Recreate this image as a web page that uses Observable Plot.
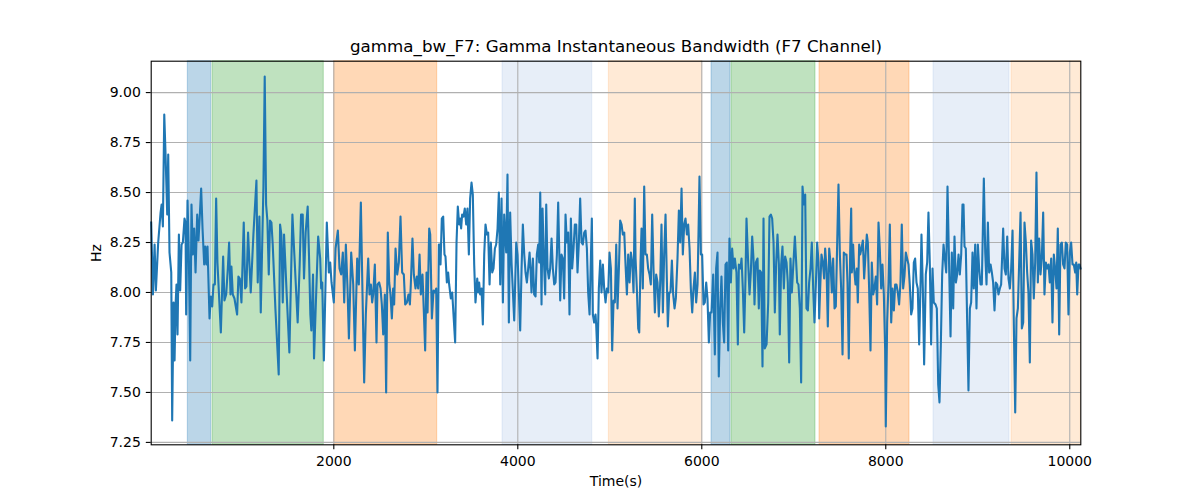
<!DOCTYPE html>
<html>
<head>
<meta charset="utf-8">
<script src="https://cdn.jsdelivr.net/npm/d3@7"></script>
<script src="https://cdn.jsdelivr.net/npm/@observablehq/plot@0.6"></script>
<style>
  html, body { margin: 0; padding: 0; background: #fff; }
  #chart svg { display: block; }
</style>
</head>
<body>
<div id="chart"></div>
<script>
const title = "gamma_bw_F7: Gamma Instantaneous Bandwidth (F7 Channel)";
const xLabel = "Time(s)";
const yLabel = "Hz";
const xTicks = [2000, 4000, 6000, 8000, 10000];
const yTicks = [7.25, 7.5, 7.75, 8.0, 8.25, 8.5, 8.75, 9.0];
const xDomain = [15, 10120];
const yDomain = [7.238, 9.157];

// shaded periods
const spanStart = [413, 682, 2004, 3834, 4990, 6106, 6323, 7280, 8519, 9367];
const spanEnd   = [667, 1891, 3124, 4809, 6004, 6312, 7236, 8258, 9345, 10120];
const spanColor = ["#1f77b4", "#2ca02c", "#ff7f0e", "#aec7e8", "#ffbb78",
                   "#1f77b4", "#2ca02c", "#ff7f0e", "#aec7e8", "#ffbb78"];

// series
const times = [
15,34,52,66,91,117,128,142,157,171,189,200,214,233,243,258,269,280,290,301,316,330,345,359,377,388,395,410,424,439,453,468,482,497,515,529,544,558,573,591,602,616,627,649,663,678,692,707,721,735,772,797,811,830,848,862,877,887,902,920,949,963,978,996,1021,1036,1050,1068,1097,1126,1159,1173,1191,1206,1235,1249,1264,1278,1293,1307,1322,1336,1365,1401,1416,1430,1445,1459,1488,1517,1550,1571,1607,1629,1644,1662,1676,1694,1716,1730,1745,1756,1774,1785,
1808,1830,1852,1863,1874,1892,1924,1946,1961,1975,2000,2019,2044,2062,2080,2098,2113,2131,2149,2164,2189,2211,2229,2254,2272,2294,2312,2330,2348,2374,2388,2403,2417,2428,2446,2464,2475,2493,2508,2522,2537,2555,2569,2587,2602,2616,2631,2645,2656,2671,2689,2707,2725,2743,2761,2776,2794,2812,2827,2837,2855,2870,2888,2903,2917,2932,2946,2964,2979,2993,3008,3019,3037,3048,3066,3084,3098,3113,3127,3142,3153,3160,3174,3189,3203,3214,3229,3243,3254,3272,3287,3319,3334,3348,3363,3374,3384,3395,3410,3424,3439,3453,3468,3482,3497,3511,3526,3540,
3559,3570,3580,3591,3606,3620,3635,3649,3664,3678,3693,3707,3722,3736,3751,3765,3780,3794,3809,3823,3838,3852,3874,3888,3903,3917,3932,3961,3983,3997,4026,4041,4055,4070,4084,4099,4113,4128,4139,4149,4164,4178,4193,4207,4222,4233,4244,4258,4269,4283,4298,4309,4323,4338,4352,4367,4381,4396,4410,4425,4439,4450,4461,4475,4490,4504,4519,4533,4548,4562,4577,4591,4606,4620,4635,4649,4664,4678,4693,4707,4722,4736,4751,4765,4780,4805,4816,4830,4845,4852,4867,4881,4896,4910,4925,4939,4954,4968,4983,4997,5012,5026,5041,5055,5070,5084,5099,5113,5128,5142,5157,5171,5186,5200,5215,5229,5244,5258,5272,
5280,5294,5309,5320,5334,5345,5359,5374,5388,5403,5417,5432,5446,5461,5475,5490,5504,5519,5533,5548,5562,5577,5591,5606,5620,5631,5646,5660,5675,5689,5704,5718,5736,5751,5765,5780,5794,5809,5823,5838,5852,5867,5881,5896,5910,5925,5939,5954,5968,5975,5990,6004,6019,6033,6048,6062,6077,6091,6106,6124,6142,6156,6171,6185,6200,6214,6229,6243,6258,6272,6287,6301,6316,6330,6345,6359,6377,6392,6403,6421,6432,6446,6461,6475,6486,6504,6519,6533,6548,6562,6573,6588,6606,6620,6631,6646,6660,6671,6685,6704,6722,6736,6751,6765,6780,6794,6809,6823,6838,6848,6863,6877,6892,6906,6921,6935,6950,6964,6979,6993,7012,
7037,7051,7066,7080,7095,7109,7124,7138,7153,7167,7182,7196,7211,7225,7240,7254,7269,7276,7287,7301,7316,7330,7341,7356,7370,7385,7399,7414,7428,7443,7457,7472,7486,7501,7515,7530,7544,7559,7573,7584,7598,7613,7624,7631,7645,7656,7671,7685,7696,7711,7722,7736,7751,7765,7780,7794,7805,7819,7834,7848,7863,7877,7892,7906,7921,7935,7950,7964,7979,7993,8000,8015,8030,8044,8059,8073,8088,8102,8116,8131,8145,8160,8174,8189,8203,8218,8232,8247,8261,8276,8290,8305,8319,8334,8348,8363,8377,8388,8403,8417,8435,8450,8464,8479,8493,8508,8522,
8541,8555,8570,8584,8599,8613,8628,8642,8657,8671,8686,8704,8718,8733,8747,8762,8776,8791,8805,8820,8834,8845,8856,8870,8885,8899,8914,8928,8943,8957,8972,8986,9001,9015,9030,9044,9066,9081,9095,9110,9124,9139,9153,9167,9182,9196,9211,9225,9240,9254,9276,9291,9305,9320,9334,9349,9363,9378,9392,9407,9421,9436,9450,9465,9479,9494,9508,9523,9537,9551,9566,9580,9595,9609,9624,9638,9653,9667,9682,9696,9711,9725,9740,9754,9769,9783,9798,9812,9827,9841,9856,9870,9885,9899,9914,9928,9943,9957,9972,9986,10001,10015,10030,10044,10059,10070,10081,10095,10106,10117
];
const hz = [
8.35,7.99,8.24,8.01,8.25,8.40,8.44,8.33,8.89,8.69,8.39,8.69,8.20,8.10,7.36,7.95,7.66,7.94,8.04,7.79,8.29,8.01,8.24,8.25,8.37,8.35,7.89,8.46,8.19,7.66,8.44,8.19,8.32,8.10,8.39,8.26,8.39,8.52,8.32,8.14,8.23,8.14,8.23,7.87,7.98,7.93,8.04,8.04,8.47,8.15,7.80,8.18,7.96,7.99,8.12,8.25,7.99,8.13,7.99,7.97,7.89,8.08,8.07,7.95,8.35,8.02,8.03,8.30,8.00,8.29,8.56,8.05,8.38,7.90,8.53,9.08,8.44,8.36,8.09,8.36,8.35,8.24,7.92,7.59,8.34,8.29,7.95,8.29,7.99,7.70,8.39,8.19,7.85,8.14,8.39,8.39,8.07,8.30,8.43,8.19,7.89,7.81,8.09,7.67,
7.99,8.28,8.17,8.02,8.05,7.66,8.35,8.10,8.15,8.05,7.95,8.22,8.31,8.12,8.09,8.20,7.95,8.24,8.02,7.77,8.20,8.04,7.71,8.17,8.04,8.45,7.99,7.55,7.89,8.17,7.99,8.04,7.95,7.99,8.14,7.75,8.04,8.05,8.02,7.94,7.79,7.99,7.50,8.30,8.05,7.99,7.87,8.02,7.94,8.22,8.09,8.15,8.38,8.10,8.09,7.94,7.95,7.99,7.94,8.04,8.27,8.09,8.02,8.08,8.02,8.19,7.99,8.09,7.90,7.71,8.10,7.90,8.32,8.29,7.87,8.01,8.00,8.02,7.50,8.24,8.24,8.14,8.37,8.38,8.19,8.18,8.05,8.10,8.04,7.97,8.00,7.75,8.25,8.43,8.34,8.37,8.32,8.39,8.38,8.42,8.34,8.42,8.19,8.47,8.55,8.49,8.14,7.95,
8.07,8.00,8.05,7.99,8.02,7.84,8.19,8.34,8.29,8.30,8.04,8.25,8.10,8.12,8.22,8.24,8.32,8.50,8.04,8.47,7.95,8.39,8.20,8.59,7.85,8.40,8.15,7.86,8.25,8.19,7.81,8.12,8.34,8.19,8.10,8.05,8.12,8.20,8.11,8.00,8.17,7.99,7.98,8.19,8.24,8.15,8.50,7.94,8.42,8.17,7.99,8.44,8.12,8.07,8.12,8.27,8.12,8.04,8.05,8.19,8.45,8.22,7.96,8.19,8.17,7.97,8.39,8.25,8.30,7.89,8.37,8.12,8.22,8.34,8.34,8.10,8.25,8.47,8.25,8.24,8.30,8.31,8.22,8.00,7.89,8.37,7.89,7.85,7.89,7.84,7.67,8.02,8.16,8.00,8.14,8.02,7.95,8.02,8.00,8.20,8.12,7.71,7.96,7.95,8.24,7.92,8.12,8.36,8.34,8.29,8.30,8.14,7.99,8.19,8.05,8.20,8.15,8.00,8.47,
8.17,8.02,7.82,7.80,8.15,8.32,8.02,8.53,8.19,8.19,8.12,8.09,8.04,8.39,8.12,7.90,8.09,8.05,7.88,8.05,8.34,7.90,8.19,8.39,8.07,7.83,8.00,8.00,8.16,7.99,7.92,7.97,8.17,8.41,8.25,8.52,8.19,8.34,8.37,8.29,8.34,8.22,8.02,7.90,8.02,8.10,7.95,8.04,8.39,8.58,8.19,8.19,7.94,7.95,8.05,7.97,7.75,7.90,7.90,8.09,7.69,8.12,8.20,7.58,7.92,8.08,7.85,7.75,8.14,8.15,7.71,8.27,8.05,8.22,8.12,8.17,8.10,7.74,8.14,8.12,8.17,8.02,7.80,8.07,8.37,8.15,7.99,8.10,8.28,8.17,7.94,8.15,8.17,7.92,8.11,8.10,7.63,8.37,7.72,7.74,7.95,8.38,8.39,8.37,8.25,7.90,8.15,8.29,8.14,7.79,8.14,8.23,8.02,8.18,8.15,8.05,7.65,8.17,8.00,8.12,8.28,
8.05,8.04,7.92,7.55,8.53,8.44,8.49,7.92,7.91,8.05,8.12,8.25,8.02,7.85,8.04,8.25,8.15,7.87,8.02,8.19,8.15,8.07,8.22,8.12,7.83,8.22,8.15,8.00,8.17,7.92,7.93,8.25,8.54,8.19,8.02,7.69,8.20,8.19,8.19,8.05,7.67,8.20,8.42,8.10,8.24,8.12,8.04,8.12,7.95,8.24,8.19,8.22,8.26,8.07,8.19,8.29,8.25,8.02,7.71,8.15,7.99,8.02,8.08,7.94,8.35,8.22,8.02,8.14,7.99,7.72,7.33,7.85,8.05,8.34,7.85,8.02,7.91,8.04,8.04,8.00,7.94,8.05,8.34,8.02,8.08,8.20,8.17,8.14,8.04,7.89,7.92,8.15,8.17,8.05,8.02,7.74,8.02,8.29,8.02,7.64,8.09,8.15,8.40,8.14,7.74,8.12,7.95,
7.94,7.92,7.54,7.45,7.75,8.09,8.24,8.17,8.10,8.53,8.19,7.78,8.20,7.92,8.28,8.05,8.09,8.19,8.09,8.19,8.44,8.44,8.23,8.22,7.85,7.51,7.92,7.95,8.20,8.02,8.24,7.92,8.24,8.12,8.04,8.04,8.57,8.20,8.04,8.35,8.10,8.14,8.10,8.05,7.91,8.05,8.04,7.99,8.02,8.04,8.32,8.12,8.09,8.28,8.07,8.02,8.12,8.31,7.84,7.40,7.87,7.92,8.15,8.40,7.82,7.85,8.35,8.25,8.10,8.00,7.65,8.26,8.19,7.97,8.15,8.60,8.05,8.27,8.09,8.17,8.40,7.99,8.15,8.12,8.14,8.05,8.17,7.85,8.19,8.12,8.02,8.32,7.79,8.24,8.25,8.14,8.12,8.25,8.24,7.89,8.20,8.25,8.14,8.14,8.10,8.15,7.99,8.14,8.14,8.12
];

const n = Math.min(times.length, hz.length);
const idx = d3.range(n);
const spans = d3.range(spanStart.length);
const gridStyle = {stroke: "#b0b0b0", strokeOpacity: 1, strokeWidth: 1.1};

const chart = Plot.plot({
  width: 1200,
  height: 500,
  marginLeft: 150.7,
  marginRight: 119.7,
  marginTop: 60.7,
  marginBottom: 55.7,
  style: {fontFamily: "'DejaVu Sans', sans-serif", fontSize: "14px", color: "#000", background: "#fff", overflow: "visible"},
  x: {domain: xDomain},
  y: {domain: yDomain},
  color: {type: "identity"},
  marks: [
    Plot.rect(spans, {
      x1: i => spanStart[i], x2: i => spanEnd[i],
      fill: i => spanColor[i], fillOpacity: 0.3,
      stroke: i => spanColor[i], strokeOpacity: 0.3, strokeWidth: 1
    }),
    Plot.gridX(xTicks, gridStyle),
    Plot.gridY(yTicks, gridStyle),
    Plot.line(idx, {x: i => times[i], y: i => hz[i], stroke: "#1f77b4", strokeWidth: 2.1, strokeLinejoin: "round", strokeLinecap: "square"}),
    Plot.frame({stroke: "#000", strokeWidth: 1.1}),
    Plot.axisX(xTicks, {tickSize: 4.9, tickPadding: 6, tickFormat: d3.format("d"), label: null, fontSize: 14, strokeWidth: 1.1}),
    Plot.axisY(yTicks, {tickSize: 4.9, tickPadding: 5.5, tickFormat: d3.format(".2f"), label: null, fontSize: 14, strokeWidth: 1.1}),
    Plot.text([title], {frameAnchor: "top", dy: -9.5, lineAnchor: "bottom", fontSize: 16.7}),
    Plot.text([xLabel], {frameAnchor: "bottom", dy: 36.5, lineAnchor: "middle", fontSize: 14}),
    Plot.text([yLabel], {frameAnchor: "left", dx: -54.5, rotate: -90, lineAnchor: "middle", textAnchor: "middle", fontSize: 14})
  ]
});
document.getElementById("chart").appendChild(chart);
</script>
</body>
</html>
